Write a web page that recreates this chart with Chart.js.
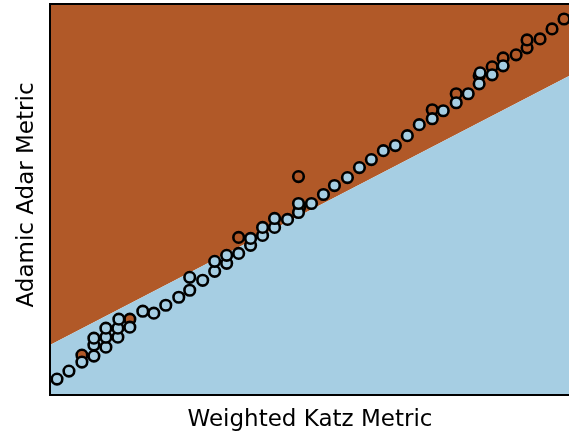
<!DOCTYPE html>
<html>
<head>
<meta charset="utf-8">
<script src="https://cdn.jsdelivr.net/npm/chart.js@4/dist/chart.umd.min.js"></script>
<style>
  html, body { margin: 0; padding: 0; background: #fff; overflow: hidden; }
</style>
</head>
<body>
<canvas id="plot" width="569" height="431"></canvas>
<script>
// decision boundary (line between the two regions)
const boundaryX = [0, 10];
const boundaryY = [1.28, 8.16];

// points labelled "blue" (light fill)
const blueX = [0.135, 0.365, 0.615, 0.846, 0.846, 0.846, 1.077, 1.077, 1.077, 1.308,
  1.308, 1.327, 1.538, 1.788, 2.0, 2.231, 2.481, 2.692, 2.692, 2.942,
  3.173, 3.173, 3.404, 3.404, 3.635, 3.865, 3.865, 4.096, 4.096, 4.327,
  4.327, 4.577, 4.788, 4.788, 5.038, 5.269, 5.481, 5.731, 5.962, 6.192,
  6.423, 6.654, 6.885, 7.115, 7.365, 7.577, 7.827, 8.058, 8.269, 8.288,
  8.519, 8.731];
const blueY = [0.408, 0.612, 0.842, 0.995, 1.276, 1.454, 1.224, 1.480, 1.709, 1.480,
  1.709, 1.939, 1.735, 2.143, 2.092, 2.296, 2.5, 2.679, 3.010, 2.934,
  3.163, 3.418, 3.367, 3.571, 3.622, 3.827, 4.005, 4.082, 4.286, 4.286,
  4.515, 4.490, 4.668, 4.898, 4.898, 5.128, 5.357, 5.561, 5.816, 6.020,
  6.250, 6.378, 6.633, 6.913, 7.066, 7.270, 7.474, 7.704, 7.959, 8.240,
  8.189, 8.418];

// points labelled "brown"
const brownX = [0.615, 1.538, 3.635, 4.788, 4.808, 7.365, 7.827, 8.269, 8.519, 8.731,
  8.981, 9.192, 9.192, 9.442, 9.673, 9.904];
const brownY = [1.020, 1.939, 4.031, 5.587, 4.796, 7.296, 7.704, 8.163, 8.393, 8.622,
  8.699, 8.878, 9.082, 9.107, 9.362, 9.617];

const xLabel = "Weighted Katz Metric";
const yLabel = "Adamic Adar Metric";

const BROWN = '#b15928';
const BLUE = '#a6cee3';

const toPts = (xs, ys) => xs.map((x, i) => ({ x: x, y: ys[i] }));
const boundary = toPts(boundaryX, boundaryY);

// black frame on left, top, bottom (right side runs off the picture)
const framePlugin = {
  id: 'frame',
  afterDatasetsDraw(chart) {
    const { ctx, chartArea: a } = chart;
    ctx.save();
    ctx.strokeStyle = '#000';
    ctx.lineWidth = 2;
    ctx.beginPath();
    ctx.moveTo(a.right + 2, a.top);
    ctx.lineTo(a.left, a.top);
    ctx.lineTo(a.left, a.bottom);
    ctx.lineTo(a.right + 2, a.bottom);
    ctx.stroke();
    ctx.restore();
  }
};

const labelPlugin = {
  id: 'axisLabels',
  afterDraw(chart) {
    const { ctx } = chart;
    ctx.save();
    ctx.fillStyle = '#000';
    ctx.font = '23px "DejaVu Sans"';
    ctx.textAlign = 'center';
    ctx.textBaseline = 'alphabetic';
    ctx.fillText(xLabel, 310, 426);
    ctx.translate(33, 195);
    ctx.rotate(-Math.PI / 2);
    ctx.fillText(yLabel, 0, 0);
    ctx.restore();
  }
};

const pointStyle = {
  pointRadius: 5.3,
  pointHoverRadius: 5.3,
  pointBorderWidth: 2.6,
  pointBorderColor: '#000',
  showLine: false
};

new Chart(document.getElementById('plot'), {
  type: 'scatter',
  data: {
    datasets: [
      { type: 'line', data: boundary, fill: 'end', backgroundColor: BROWN,
        borderWidth: 0, pointRadius: 0, order: 10 },
      { type: 'line', data: boundary, fill: 'start', backgroundColor: BLUE,
        borderWidth: 0, pointRadius: 0, order: 9 },
      Object.assign({ data: toPts(brownX, brownY), backgroundColor: BROWN,
        pointBackgroundColor: BROWN, order: 2 }, pointStyle),
      Object.assign({ data: toPts(blueX, blueY), backgroundColor: BLUE,
        pointBackgroundColor: BLUE, order: 1 }, pointStyle)
    ]
  },
  options: {
    responsive: false,
    animation: false,
    layout: { autoPadding: false, padding: { left: 50, top: 4, right: 0, bottom: 36 } },
    scales: {
      x: { type: 'linear', min: 0, max: 10, display: false },
      y: { type: 'linear', min: 0, max: 10, display: false }
    },
    plugins: {
      legend: { display: false },
      tooltip: { enabled: false },
      filler: { drawTime: 'beforeDatasetsDraw' }
    }
  },
  plugins: [framePlugin, labelPlugin]
});
</script>
</body>
</html>
